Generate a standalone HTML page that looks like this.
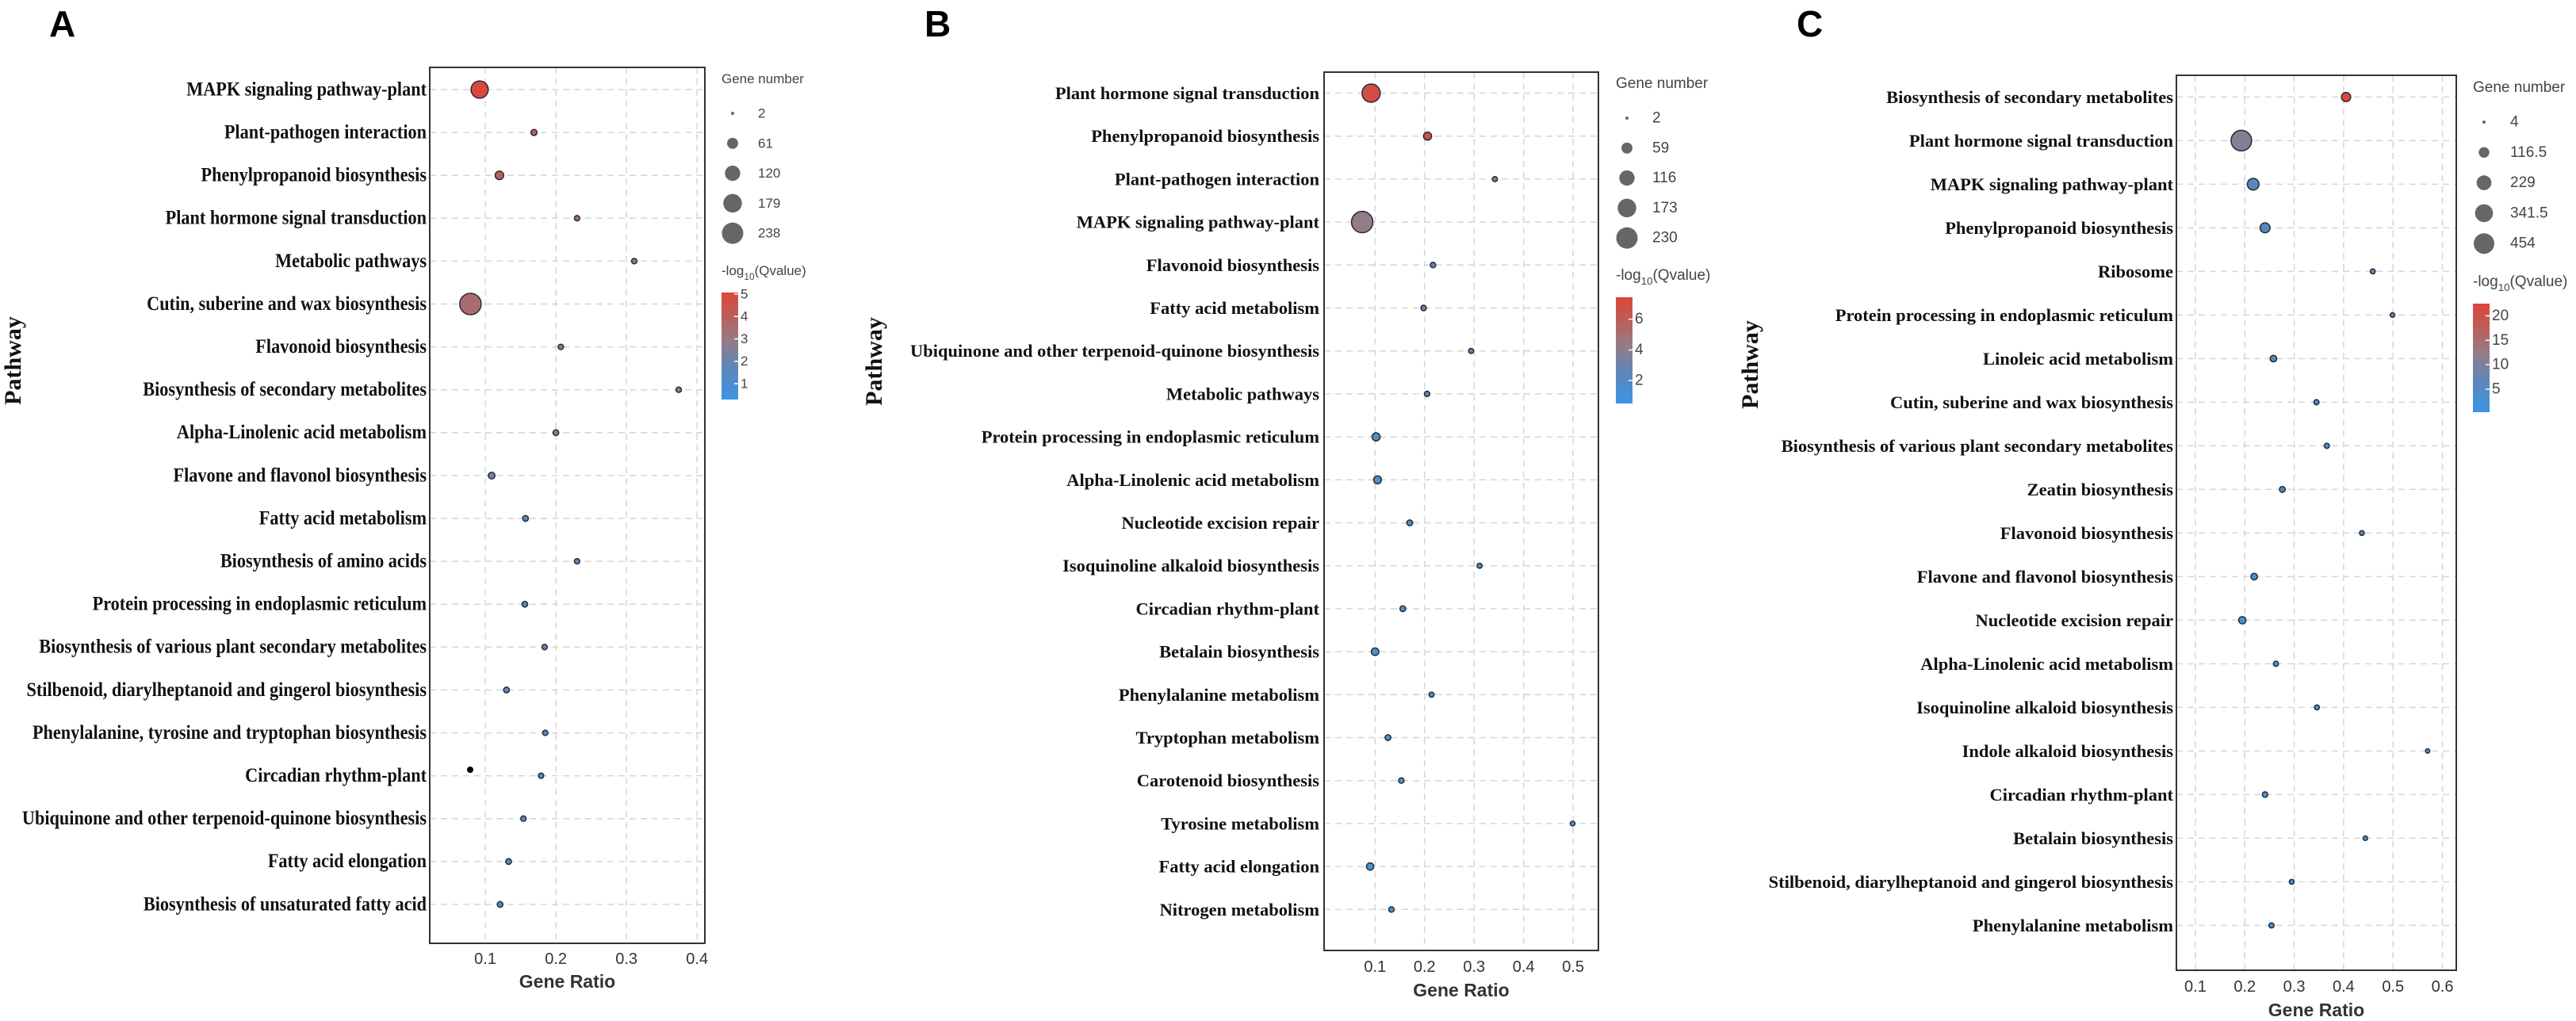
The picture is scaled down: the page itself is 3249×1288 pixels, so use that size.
<!DOCTYPE html>
<html><head><meta charset="utf-8"><style>
html,body{margin:0;padding:0;background:#fff;}
svg{display:block;}
</style></head><body>
<svg id="fig" width="3249" height="1288" viewBox="0 0 3249 1288" xmlns="http://www.w3.org/2000/svg">
<defs>
<linearGradient id="cbar" x1="0" y1="1" x2="0" y2="0">
<stop offset="0" stop-color="#3b95e4"/><stop offset="0.3" stop-color="#5f86b8"/><stop offset="0.55" stop-color="#957b86"/><stop offset="0.8" stop-color="#c05b57"/><stop offset="1" stop-color="#dc473b"/>
</linearGradient>
</defs>
<text x="62" y="46" font-family="Liberation Sans, sans-serif" font-weight="bold" font-size="46">A</text>
<text x="1166" y="46" font-family="Liberation Sans, sans-serif" font-weight="bold" font-size="46">B</text>
<text x="2266" y="46" font-family="Liberation Sans, sans-serif" font-weight="bold" font-size="46">C</text>
<circle cx="593" cy="971" r="4" fill="#000"/>
</svg>
<script>
const catsA = ["MAPK signaling pathway-plant","Plant-pathogen interaction","Phenylpropanoid biosynthesis","Plant hormone signal transduction","Metabolic pathways","Cutin, suberine and wax biosynthesis","Flavonoid biosynthesis","Biosynthesis of secondary metabolites","Alpha-Linolenic acid metabolism","Flavone and flavonol biosynthesis","Fatty acid metabolism","Biosynthesis of amino acids","Protein processing in endoplasmic reticulum","Biosynthesis of various plant secondary metabolites","Stilbenoid, diarylheptanoid and gingerol biosynthesis","Phenylalanine, tyrosine and tryptophan biosynthesis","Circadian rhythm-plant","Ubiquinone and other terpenoid-quinone biosynthesis","Fatty acid elongation","Biosynthesis of unsaturated fatty acid"];
const ratioA = [0.092,0.169,0.120,0.230,0.311,0.079,0.207,0.374,0.200,0.109,0.157,0.230,0.156,0.184,0.130,0.185,0.179,0.154,0.133,0.121];
const countA = [152,16,35,12,12,238,12,12,14,20,14,12,14,12,14,12,12,12,14,14];
const qA = [5.0,4.0,3.8,3.4,3.3,3.5,2.8,3.0,2.3,2.0,1.6,1.6,1.6,1.5,1.5,1.5,1.5,1.5,1.4,1.4];
const sizeTicksA = ["2","61","120","179","238"];
const colorTicksA = ["5","4","3","2","1"];
const xTicksA = ["0.1","0.2","0.3","0.4"];

const catsB = ["Plant hormone signal transduction","Phenylpropanoid biosynthesis","Plant-pathogen interaction","MAPK signaling pathway-plant","Flavonoid biosynthesis","Fatty acid metabolism","Ubiquinone and other terpenoid-quinone biosynthesis","Metabolic pathways","Protein processing in endoplasmic reticulum","Alpha-Linolenic acid metabolism","Nucleotide excision repair","Isoquinoline alkaloid biosynthesis","Circadian rhythm-plant","Betalain biosynthesis","Phenylalanine metabolism","Tryptophan metabolism","Carotenoid biosynthesis","Tyrosine metabolism","Fatty acid elongation","Nitrogen metabolism"];
const ratioB = [0.092,0.206,0.342,0.074,0.217,0.198,0.294,0.205,0.102,0.105,0.170,0.311,0.156,0.100,0.214,0.126,0.153,0.499,0.090,0.133];
const countB = [165,30,10,230,12,12,10,12,30,28,14,10,14,26,10,14,12,8,24,12];
const qB = [7.0,6.6,4.6,4.2,2.3,2.2,2.5,2.3,1.8,1.7,1.6,1.5,1.5,1.4,1.4,1.3,1.3,1.2,1.2,1.2];
const sizeTicksB = ["2","59","116","173","230"];
const colorTicksB = ["6","4","2"];
const xTicksB = ["0.1","0.2","0.3","0.4","0.5"];

const catsC = ["Biosynthesis of secondary metabolites","Plant hormone signal transduction","MAPK signaling pathway-plant","Phenylpropanoid biosynthesis","Ribosome","Protein processing in endoplasmic reticulum","Linoleic acid metabolism","Cutin, suberine and wax biosynthesis","Biosynthesis of various plant secondary metabolites","Zeatin biosynthesis","Flavonoid biosynthesis","Flavone and flavonol biosynthesis","Nucleotide excision repair","Alpha-Linolenic acid metabolism","Isoquinoline alkaloid biosynthesis","Indole alkaloid biosynthesis","Circadian rhythm-plant","Betalain biosynthesis","Stilbenoid, diarylheptanoid and gingerol biosynthesis","Phenylalanine metabolism"];
const ratioC = [0.405,0.193,0.217,0.241,0.459,0.499,0.258,0.345,0.366,0.276,0.437,0.219,0.195,0.263,0.346,0.570,0.241,0.444,0.295,0.254];
const countC = [85,454,140,100,20,16,40,22,22,30,18,40,50,22,20,14,26,16,18,22];
const qC = [22,11,6,5,5,4.5,3.5,3,3,3,2.5,2,1.8,2,2,1.5,1.8,1.5,1.5,1.5];
const sizeTicksC = ["4","116.5","229","341.5","454"];
const colorTicksC = ["20","15","10","5"];
const xTicksC = ["0.1","0.2","0.3","0.4","0.5","0.6"];

const NS = "http://www.w3.org/2000/svg";
const svg = document.getElementById("fig");
function mk(tag, attrs, parent) {
  const e = document.createElementNS(NS, tag);
  for (const k in attrs) e.setAttribute(k, attrs[k]);
  (parent || svg).appendChild(e);
  return e;
}
const stops = [[0,[59,149,228]],[0.3,[95,134,184]],[0.55,[149,123,134]],[0.8,[192,91,87]],[1,[220,71,59]]];
function colorAt(t) {
  t = Math.max(0, Math.min(1, t));
  for (let i = 1; i < stops.length; i++) {
    if (t <= stops[i][0]) {
      const a = stops[i-1], b = stops[i], f = (t - a[0]) / (b[0] - a[0]);
      const c = a[1].map((v, j) => Math.round(v + (b[1][j] - v) * f));
      return "rgb(" + c.join(",") + ")";
    }
  }
  return "rgb(220,71,59)";
}

function panel(p) {
  const g = mk("g", {});
  
  
  const xs = v => p.x0 + (v - p.d0) / (p.d1 - p.d0) * (p.x1 - p.x0);
  const ys = i => p.row0 + i * p.rowStep;
  const sMin = parseFloat(p.sizeTicks[0]), sMax = parseFloat(p.sizeTicks[p.sizeTicks.length - 1]);
  const rs = n => Math.sqrt(p.rmin * p.rmin + (p.rmax * p.rmax - p.rmin * p.rmin) * Math.max(0, (n - sMin)) / (sMax - sMin));
  const cs = q => colorAt((q - p.q0) / (p.q1 - p.q0));
  p.xTicks.forEach(t => {
    const x = xs(parseFloat(t));
    const l = mk("line", {x1: x, x2: x, y1: p.y0, y2: p.y1, stroke: "#d6d6d6", "stroke-width": 1.5, "stroke-dasharray": "8,6"}, g);
    
    
  });
  p.cats.forEach((c, i) => {
    const y = ys(i);
    const l = mk("line", {x1: p.x0, x2: p.x1, y1: y, y2: y, stroke: "#d6d6d6", "stroke-width": 1.5, "stroke-dasharray": "8,6"}, g);
    
    
    const t = mk("text", {x: 0, y: 0, "text-anchor": "end", "dominant-baseline": "central", "font-family": "Liberation Serif, serif", "font-weight": "bold", "font-size": p.labelSize, fill: "#111", transform: "translate(" + p.labelX + "," + y + ") scale(" + p.labelScale + ",1)"}, g);
    t.textContent = c;
    
    
  });
  const box = mk("rect", {x: p.x0, y: p.y0, width: p.x1 - p.x0, height: p.y1 - p.y0, fill: "none", stroke: "#333", "stroke-width": 2}, g);
  
  
  p.cats.forEach((c, i) => {
    const dot = mk("circle", {cx: xs(p.ratio[i]), cy: ys(i), r: rs(p.count[i]), fill: cs(p.q[i]), stroke: "#2b2b2b", "stroke-width": 1.5}, g);
    
    
  });
  p.xTicks.forEach(t => {
    const tx = mk("text", {x: xs(parseFloat(t)), y: p.tickY, "text-anchor": "middle", "font-family": "Liberation Sans, sans-serif", "font-size": 20, fill: "#333"}, g);
    tx.textContent = t;
    
    
  });
  const xt = mk("text", {x: (p.x0 + p.x1) / 2, y: p.titleY, "text-anchor": "middle", "font-family": "Liberation Sans, sans-serif", "font-weight": "bold", "font-size": 23, fill: "#333"}, g);
  xt.textContent = "Gene Ratio";
  
  
  const yt = mk("text", {x: 0, y: 0, "text-anchor": "middle", "font-family": "Liberation Serif, serif", "font-weight": "bold", "font-size": 30, fill: "#111", transform: "translate(" + p.pathX + "," + p.pathY + ") rotate(-90)"}, g);
  yt.textContent = "Pathway";
  
  
  const lt = mk("text", {x: p.legX, y: p.legTitleY, "font-family": "Liberation Sans, sans-serif", "font-size": p.legFont, fill: "#444"}, g);
  lt.textContent = "Gene number";
  
  
  p.sizeTicks.forEach((s, k) => {
    const y = p.legY0 + k * p.legStep;
    const c = mk("circle", {cx: p.legCx, cy: y, r: rs(parseFloat(s)), fill: "#666"}, g);
    
    
    const t = mk("text", {x: p.legLx, y: y, "dominant-baseline": "central", "font-family": "Liberation Sans, sans-serif", "font-size": p.legFont, fill: "#444"}, g);
    t.textContent = s;
    
    
  });
  const ct = mk("text", {x: p.legX, y: p.cTitleY, "font-family": "Liberation Sans, sans-serif", "font-size": p.legFont, fill: "#444"}, g);
  ct.innerHTML = '-log<tspan font-size="' + (p.legFont * 0.7) + '" dy="6">10</tspan><tspan dy="-6">(Qvalue)</tspan>';
  
  
  const cb = mk("rect", {x: p.legX, y: p.cbY0, width: 21, height: p.cbY1 - p.cbY0, fill: "url(#cbar)"}, g);
  
  
  p.colorTicks.forEach(s => {
    const y = p.cbY1 - (parseFloat(s) - p.q0) / (p.q1 - p.q0) * (p.cbY1 - p.cbY0);
    const tk = mk("line", {x1: p.legX + 16, x2: p.legX + 21, y1: y, y2: y, stroke: "#fff", "stroke-width": 1.5}, g);
    
    
    const t = mk("text", {x: p.legX + 24, y: y, "dominant-baseline": "central", "font-family": "Liberation Sans, sans-serif", "font-size": p.legFont, fill: "#444"}, g);
    t.textContent = s;
    
    
  });
}

panel({id: "a", cats: catsA, ratio: ratioA, count: countA, q: qA, sizeTicks: sizeTicksA, colorTicks: colorTicksA, xTicks: xTicksA,
  x0: 542, x1: 889, y0: 85, y1: 1190, d0: 0.0213, d1: 0.411, row0: 113, rowStep: 54.1,
  rmin: 2, rmax: 13.5, q0: 0.29, q1: 5.07, labelX: 538, labelSize: 25, labelScale: 0.89,
  tickY: 1216, titleY: 1246, pathX: 26, pathY: 455,
  legX: 910, legFont: 17, legTitleY: 105, legY0: 143, legStep: 37.8, legCx: 924, legLx: 956,
  cTitleY: 347, cbY0: 369, cbY1: 504});
panel({id: "b", cats: catsB, ratio: ratioB, count: countB, q: qB, sizeTicks: sizeTicksB, colorTicks: colorTicksB, xTicks: xTicksB,
  x0: 1670, x1: 2016, y0: 91, y1: 1199, d0: -0.003, d1: 0.551, row0: 117.5, rowStep: 54.2,
  rmin: 2, rmax: 13.5, q0: 0.51, q1: 7.43, labelX: 1664, labelSize: 22.5, labelScale: 1,
  tickY: 1226, titleY: 1257, pathX: 1112, pathY: 456,
  legX: 2038, legFont: 19, legTitleY: 111, legY0: 149, legStep: 37.8, legCx: 2052, legLx: 2084,
  cTitleY: 353, cbY0: 375, cbY1: 509});
panel({id: "c", cats: catsC, ratio: ratioC, count: countC, q: qC, sizeTicks: sizeTicksC, colorTicks: colorTicksC, xTicks: xTicksC,
  x0: 2745, x1: 3098, y0: 95, y1: 1224, d0: 0.0616, d1: 0.628, row0: 122.4, rowStep: 55.0,
  rmin: 2, rmax: 13, q0: 0.3, q1: 22.5, labelX: 2741, labelSize: 22.5, labelScale: 1,
  tickY: 1251, titleY: 1282, pathX: 2217, pathY: 460,
  legX: 3119, legFont: 19, legTitleY: 116, legY0: 154, legStep: 38.3, legCx: 3133, legLx: 3166,
  cTitleY: 361, cbY0: 383, cbY1: 520});
</script>
</body></html>
